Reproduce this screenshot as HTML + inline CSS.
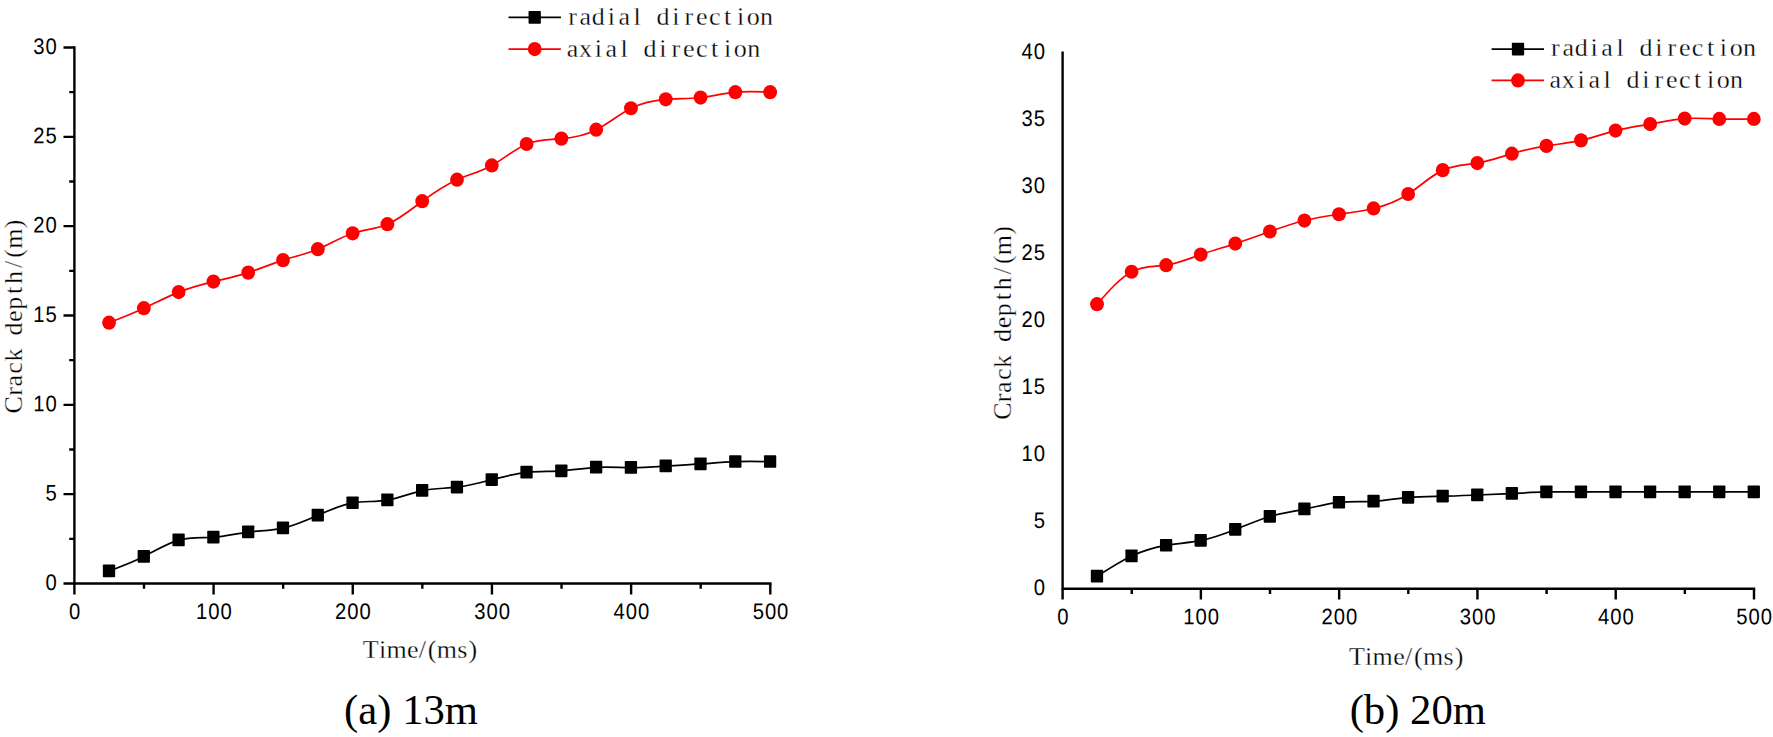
<!DOCTYPE html>
<html lang="en"><head><meta charset="utf-8"><title>Crack depth vs time</title>
<style>html,body{margin:0;padding:0;background:#fff}body{width:1773px;height:737px;overflow:hidden}svg{display:block}</style>
</head><body>
<svg width="1773" height="737" viewBox="0 0 1773 737">
<rect width="1773" height="737" fill="#fff"/>
<g>
<g stroke="#000" stroke-width="2.4" fill="none">
<path d="M74.4 46.3V584.7M73.2 583.5H771.5"/>
<path d="M74.4 583.5v10.9M143.99 583.5v5.2M213.58 583.5v10.9M283.17 583.5v5.2M352.76 583.5v10.9M422.35 583.5v5.2M491.94 583.5v10.9M561.53 583.5v5.2M631.12 583.5v10.9M700.71 583.5v5.2M770.3 583.5v10.9M74.4 583.5h-10.9M74.4 538.83h-5.2M74.4 494.17h-10.9M74.4 449.5h-5.2M74.4 404.83h-10.9M74.4 360.17h-5.2M74.4 315.5h-10.9M74.4 270.83h-5.2M74.4 226.17h-10.9M74.4 181.5h-5.2M74.4 136.83h-10.9M74.4 92.17h-5.2M74.4 47.5h-10.9"/>
</g>
<g font-family="Liberation Sans, sans-serif" font-size="22" letter-spacing="1.06" fill="#000">
<text transform="translate(75.1 619) rotate(0.05) scale(0.92 1.02)" text-anchor="middle">0</text>
<text transform="translate(214.28 619) rotate(0.05) scale(0.92 1.02)" text-anchor="middle">100</text>
<text transform="translate(353.46 619) rotate(0.05) scale(0.92 1.02)" text-anchor="middle">200</text>
<text transform="translate(492.64 619) rotate(0.05) scale(0.92 1.02)" text-anchor="middle">300</text>
<text transform="translate(631.82 619) rotate(0.05) scale(0.92 1.02)" text-anchor="middle">400</text>
<text transform="translate(771 619) rotate(0.05) scale(0.92 1.02)" text-anchor="middle">500</text>
<text transform="translate(57.8 589.9) rotate(0.05) scale(0.92 1.02)" text-anchor="end">0</text>
<text transform="translate(57.8 500.57) rotate(0.05) scale(0.92 1.02)" text-anchor="end">5</text>
<text transform="translate(57.8 411.23) rotate(0.05) scale(0.92 1.02)" text-anchor="end">10</text>
<text transform="translate(57.8 321.9) rotate(0.05) scale(0.92 1.02)" text-anchor="end">15</text>
<text transform="translate(57.8 232.57) rotate(0.05) scale(0.92 1.02)" text-anchor="end">20</text>
<text transform="translate(57.8 143.23) rotate(0.05) scale(0.92 1.02)" text-anchor="end">25</text>
<text transform="translate(57.8 53.9) rotate(0.05) scale(0.92 1.02)" text-anchor="end">30</text>
</g>
<path d="M109.2 570.99C120.79 566.69 132.39 562.39 143.99 556.52C155.59 550.65 167.19 543.22 178.78 540.08C190.38 536.94 201.98 538.09 213.58 537.23C225.18 536.36 236.78 533.47 248.38 532.04C259.97 530.62 271.57 530.67 283.17 528.11C294.77 525.56 306.37 520.41 317.97 515.25C329.56 510.09 341.16 504.93 352.76 502.92C364.36 500.91 375.96 502.05 387.55 500.06C399.15 498.08 410.75 492.97 422.35 490.59C433.95 488.21 445.55 488.56 457.14 487.2C468.74 485.83 480.34 482.75 491.94 479.69C503.54 476.64 515.14 473.6 526.74 472.37C538.33 471.14 549.93 471.72 561.53 470.94C573.13 470.16 584.73 468.03 596.32 467.37C607.92 466.71 619.52 467.52 631.12 467.55C642.72 467.57 654.32 466.81 665.91 466.12C677.51 465.43 689.11 464.81 700.71 463.97C712.31 463.13 723.91 462.07 735.5 461.65C747.1 461.23 758.7 461.44 770.3 461.65" fill="none" stroke="#000" stroke-width="1.7"/>
<g fill="#000">
<rect x="102.85" y="564.49" width="12.3" height="12.7" rx="0.8"/>
<rect x="137.64" y="550.02" width="12.3" height="12.7" rx="0.8"/>
<rect x="172.44" y="533.58" width="12.3" height="12.7" rx="0.8"/>
<rect x="207.23" y="530.73" width="12.3" height="12.7" rx="0.8"/>
<rect x="242.03" y="525.54" width="12.3" height="12.7" rx="0.8"/>
<rect x="276.82" y="521.61" width="12.3" height="12.7" rx="0.8"/>
<rect x="311.62" y="508.75" width="12.3" height="12.7" rx="0.8"/>
<rect x="346.41" y="496.42" width="12.3" height="12.7" rx="0.8"/>
<rect x="381.2" y="493.56" width="12.3" height="12.7" rx="0.8"/>
<rect x="416" y="484.09" width="12.3" height="12.7" rx="0.8"/>
<rect x="450.79" y="480.7" width="12.3" height="12.7" rx="0.8"/>
<rect x="485.59" y="473.19" width="12.3" height="12.7" rx="0.8"/>
<rect x="520.38" y="465.87" width="12.3" height="12.7" rx="0.8"/>
<rect x="555.18" y="464.44" width="12.3" height="12.7" rx="0.8"/>
<rect x="589.97" y="460.87" width="12.3" height="12.7" rx="0.8"/>
<rect x="624.77" y="461.05" width="12.3" height="12.7" rx="0.8"/>
<rect x="659.56" y="459.62" width="12.3" height="12.7" rx="0.8"/>
<rect x="694.36" y="457.47" width="12.3" height="12.7" rx="0.8"/>
<rect x="729.15" y="455.15" width="12.3" height="12.7" rx="0.8"/>
<rect x="763.95" y="455.15" width="12.3" height="12.7" rx="0.8"/>
</g>
<path d="M109.2 322.65C120.79 318.08 132.39 313.51 143.99 308.17C155.59 302.83 167.19 296.72 178.78 292.09C190.38 287.47 201.98 284.33 213.58 281.55C225.18 278.78 236.78 276.36 248.38 272.62C259.97 268.88 271.57 263.83 283.17 260.11C294.77 256.4 306.37 254.03 317.97 249.21C329.56 244.4 341.16 237.13 352.76 233.31C364.36 229.5 375.96 229.14 387.55 224.2C399.15 219.26 410.75 209.75 422.35 201.15C433.95 192.56 445.55 184.89 457.14 179.71C468.74 174.53 480.34 171.84 491.94 165.42C503.54 159 515.14 148.86 526.74 143.98C538.33 139.1 549.93 139.5 561.53 138.62C573.13 137.74 584.73 135.59 596.32 129.69C607.92 123.79 619.52 114.14 631.12 108.25C642.72 102.35 654.32 100.2 665.91 99.31C677.51 98.43 689.11 98.8 700.71 97.53C712.31 96.25 723.91 93.33 735.5 92.17C747.1 91 758.7 91.58 770.3 92.17" fill="none" stroke="#f00" stroke-width="1.7"/>
<g fill="#f00">
<ellipse cx="109.05" cy="322.65" rx="6.9" ry="7.1"/>
<ellipse cx="143.84" cy="308.17" rx="6.9" ry="7.1"/>
<ellipse cx="178.63" cy="292.09" rx="6.9" ry="7.1"/>
<ellipse cx="213.43" cy="281.55" rx="6.9" ry="7.1"/>
<ellipse cx="248.22" cy="272.62" rx="6.9" ry="7.1"/>
<ellipse cx="283.02" cy="260.11" rx="6.9" ry="7.1"/>
<ellipse cx="317.82" cy="249.21" rx="6.9" ry="7.1"/>
<ellipse cx="352.61" cy="233.31" rx="6.9" ry="7.1"/>
<ellipse cx="387.4" cy="224.2" rx="6.9" ry="7.1"/>
<ellipse cx="422.2" cy="201.15" rx="6.9" ry="7.1"/>
<ellipse cx="457" cy="179.71" rx="6.9" ry="7.1"/>
<ellipse cx="491.79" cy="165.42" rx="6.9" ry="7.1"/>
<ellipse cx="526.59" cy="143.98" rx="6.9" ry="7.1"/>
<ellipse cx="561.38" cy="138.62" rx="6.9" ry="7.1"/>
<ellipse cx="596.17" cy="129.69" rx="6.9" ry="7.1"/>
<ellipse cx="630.97" cy="108.25" rx="6.9" ry="7.1"/>
<ellipse cx="665.76" cy="99.31" rx="6.9" ry="7.1"/>
<ellipse cx="700.56" cy="97.53" rx="6.9" ry="7.1"/>
<ellipse cx="735.36" cy="92.17" rx="6.9" ry="7.1"/>
<ellipse cx="770.15" cy="92.17" rx="6.9" ry="7.1"/>
</g>
<path d="M508.5 17.4H560.9" stroke="#000" stroke-width="1.7"/>
<rect x="528.55" y="11" width="12.3" height="12.7" rx="0.8" fill="#000"/>
<path d="M508.5 49.1H560.9" stroke="#f00" stroke-width="1.7"/>
<ellipse cx="534.7" cy="49.1" rx="6.9" ry="7.1" fill="#f00"/>
<g font-family="Liberation Serif, serif" font-size="26" text-anchor="middle" stroke="#fff" stroke-width="0.3" fill="#000">
<text x="572.47 585.39 598.33 611.25 624.18 637.12 650.04 662.98 675.9 688.84 701.76 714.69 727.62 740.56 753.3 766.6" y="25.3">radial direction</text>
<text x="572.47 585.39 598.33 611.25 624.18 637.12 650.04 662.98 675.9 688.84 701.76 714.69 727.62 740.37 753.67" y="56.5">axial direction</text>
<text x="-88.6 -75.3 -64.65 -51.72 -38.79 -25.86 -12.93 0 12.93 25.86 38.79 51.72 62.84 77.58 92.32" y="0" transform="translate(22.4 316.2) rotate(-90)">Crack depth/(m)</text>
<text x="370.66 382.51 396.53 412.71 422.4 432.08 446.82 462.29 472.92" y="658.4">Time/(ms)</text>
</g>
<text font-family="Liberation Serif, serif" font-size="42.7" x="411.1" y="723.8" text-anchor="middle" fill="#000">(a) 13m</text>
</g>
<g>
<g stroke="#000" stroke-width="2.4" fill="none">
<path d="M1062.6 51.4V589.9M1061.4 588.7H1755.2"/>
<path d="M1062.6 588.7v10.9M1131.74 588.7v5.2M1200.88 588.7v10.9M1270.02 588.7v5.2M1339.16 588.7v10.9M1408.3 588.7v5.2M1477.44 588.7v10.9M1546.58 588.7v5.2M1615.72 588.7v10.9M1684.86 588.7v5.2M1754 588.7v10.9"/>
</g>
<g font-family="Liberation Sans, sans-serif" font-size="22" letter-spacing="1.06" fill="#000">
<text transform="translate(1063.3 624.2) rotate(0.05) scale(0.92 1.02)" text-anchor="middle">0</text>
<text transform="translate(1201.58 624.2) rotate(0.05) scale(0.92 1.02)" text-anchor="middle">100</text>
<text transform="translate(1339.86 624.2) rotate(0.05) scale(0.92 1.02)" text-anchor="middle">200</text>
<text transform="translate(1478.14 624.2) rotate(0.05) scale(0.92 1.02)" text-anchor="middle">300</text>
<text transform="translate(1616.42 624.2) rotate(0.05) scale(0.92 1.02)" text-anchor="middle">400</text>
<text transform="translate(1754.7 624.2) rotate(0.05) scale(0.92 1.02)" text-anchor="middle">500</text>
<text transform="translate(1046 595.1) rotate(0.05) scale(0.92 1.02)" text-anchor="end">0</text>
<text transform="translate(1046 528.09) rotate(0.05) scale(0.92 1.02)" text-anchor="end">5</text>
<text transform="translate(1046 461.08) rotate(0.05) scale(0.92 1.02)" text-anchor="end">10</text>
<text transform="translate(1046 394.06) rotate(0.05) scale(0.92 1.02)" text-anchor="end">15</text>
<text transform="translate(1046 327.05) rotate(0.05) scale(0.92 1.02)" text-anchor="end">20</text>
<text transform="translate(1046 260.04) rotate(0.05) scale(0.92 1.02)" text-anchor="end">25</text>
<text transform="translate(1046 193.03) rotate(0.05) scale(0.92 1.02)" text-anchor="end">30</text>
<text transform="translate(1046 126.01) rotate(0.05) scale(0.92 1.02)" text-anchor="end">35</text>
<text transform="translate(1046 59) rotate(0.05) scale(0.92 1.02)" text-anchor="end">40</text>
</g>
<path d="M1097.17 576.3C1108.69 568.83 1120.22 561.36 1131.74 556C1143.26 550.63 1154.79 547.37 1166.31 545.41C1177.83 543.45 1189.36 542.81 1200.88 540.45C1212.4 538.1 1223.93 534.03 1235.45 529.46C1246.97 524.89 1258.5 519.81 1270.02 516.46C1281.54 513.11 1293.07 511.47 1304.59 509.09C1316.11 506.7 1327.64 503.56 1339.16 502.39C1350.68 501.21 1362.21 502 1373.73 501.32C1385.25 500.63 1396.78 498.47 1408.3 497.43C1419.82 496.38 1431.35 496.45 1442.87 496.22C1454.39 496 1465.92 495.48 1477.44 495.02C1488.96 494.55 1500.49 494.13 1512.01 493.54C1523.53 492.96 1535.06 492.21 1546.58 491.93C1558.1 491.66 1569.63 491.86 1581.15 491.93C1592.67 492.01 1604.2 491.95 1615.72 491.93C1627.24 491.91 1638.77 491.93 1650.29 491.93C1661.81 491.94 1673.34 491.94 1684.86 491.93C1696.38 491.93 1707.91 491.93 1719.43 491.93C1730.95 491.93 1742.48 491.93 1754 491.93" fill="none" stroke="#000" stroke-width="1.7"/>
<g fill="#000">
<rect x="1090.82" y="569.8" width="12.3" height="12.7" rx="0.8"/>
<rect x="1125.39" y="549.5" width="12.3" height="12.7" rx="0.8"/>
<rect x="1159.96" y="538.91" width="12.3" height="12.7" rx="0.8"/>
<rect x="1194.53" y="533.95" width="12.3" height="12.7" rx="0.8"/>
<rect x="1229.1" y="522.96" width="12.3" height="12.7" rx="0.8"/>
<rect x="1263.67" y="509.96" width="12.3" height="12.7" rx="0.8"/>
<rect x="1298.24" y="502.59" width="12.3" height="12.7" rx="0.8"/>
<rect x="1332.81" y="495.89" width="12.3" height="12.7" rx="0.8"/>
<rect x="1367.38" y="494.82" width="12.3" height="12.7" rx="0.8"/>
<rect x="1401.95" y="490.93" width="12.3" height="12.7" rx="0.8"/>
<rect x="1436.52" y="489.72" width="12.3" height="12.7" rx="0.8"/>
<rect x="1471.09" y="488.52" width="12.3" height="12.7" rx="0.8"/>
<rect x="1505.66" y="487.04" width="12.3" height="12.7" rx="0.8"/>
<rect x="1540.23" y="485.43" width="12.3" height="12.7" rx="0.8"/>
<rect x="1574.8" y="485.43" width="12.3" height="12.7" rx="0.8"/>
<rect x="1609.37" y="485.43" width="12.3" height="12.7" rx="0.8"/>
<rect x="1643.94" y="485.43" width="12.3" height="12.7" rx="0.8"/>
<rect x="1678.51" y="485.43" width="12.3" height="12.7" rx="0.8"/>
<rect x="1713.08" y="485.43" width="12.3" height="12.7" rx="0.8"/>
<rect x="1747.65" y="485.43" width="12.3" height="12.7" rx="0.8"/>
</g>
<path d="M1097.17 304.16C1108.69 290.95 1120.22 277.73 1131.74 271.73C1143.26 265.73 1154.79 266.95 1166.31 265.16C1177.83 263.38 1189.36 258.59 1200.88 254.58C1212.4 250.56 1223.93 247.32 1235.45 243.59C1246.97 239.85 1258.5 235.63 1270.02 231.52C1281.54 227.42 1293.07 223.43 1304.59 220.53C1316.11 217.64 1327.64 215.83 1339.16 214.23C1350.68 212.64 1362.21 211.24 1373.73 208.47C1385.25 205.7 1396.78 201.54 1408.3 194C1419.82 186.45 1431.35 175.51 1442.87 170.14C1454.39 164.77 1465.92 164.98 1477.44 163.04C1488.96 161.09 1500.49 157 1512.01 153.65C1523.53 150.31 1535.06 147.7 1546.58 145.88C1558.1 144.06 1569.63 143.02 1581.15 140.39C1592.67 137.75 1604.2 133.51 1615.72 130.6C1627.24 127.69 1638.77 126.11 1650.29 124.04C1661.81 121.96 1673.34 119.38 1684.86 118.54C1696.38 117.7 1707.91 118.59 1719.43 118.94C1730.95 119.3 1742.48 119.12 1754 118.94" fill="none" stroke="#f00" stroke-width="1.7"/>
<g fill="#f00">
<ellipse cx="1097.02" cy="304.16" rx="6.9" ry="7.1"/>
<ellipse cx="1131.59" cy="271.73" rx="6.9" ry="7.1"/>
<ellipse cx="1166.16" cy="265.16" rx="6.9" ry="7.1"/>
<ellipse cx="1200.73" cy="254.58" rx="6.9" ry="7.1"/>
<ellipse cx="1235.3" cy="243.59" rx="6.9" ry="7.1"/>
<ellipse cx="1269.87" cy="231.52" rx="6.9" ry="7.1"/>
<ellipse cx="1304.44" cy="220.53" rx="6.9" ry="7.1"/>
<ellipse cx="1339.01" cy="214.23" rx="6.9" ry="7.1"/>
<ellipse cx="1373.58" cy="208.47" rx="6.9" ry="7.1"/>
<ellipse cx="1408.15" cy="194" rx="6.9" ry="7.1"/>
<ellipse cx="1442.72" cy="170.14" rx="6.9" ry="7.1"/>
<ellipse cx="1477.29" cy="163.04" rx="6.9" ry="7.1"/>
<ellipse cx="1511.86" cy="153.65" rx="6.9" ry="7.1"/>
<ellipse cx="1546.43" cy="145.88" rx="6.9" ry="7.1"/>
<ellipse cx="1581" cy="140.39" rx="6.9" ry="7.1"/>
<ellipse cx="1615.57" cy="130.6" rx="6.9" ry="7.1"/>
<ellipse cx="1650.14" cy="124.04" rx="6.9" ry="7.1"/>
<ellipse cx="1684.71" cy="118.54" rx="6.9" ry="7.1"/>
<ellipse cx="1719.28" cy="118.94" rx="6.9" ry="7.1"/>
<ellipse cx="1753.85" cy="118.94" rx="6.9" ry="7.1"/>
</g>
<path d="M1491.6 49.1H1544.0" stroke="#000" stroke-width="1.7"/>
<rect x="1511.85" y="42.7" width="12.3" height="12.7" rx="0.8" fill="#000"/>
<path d="M1491.6 80.4H1544.0" stroke="#f00" stroke-width="1.7"/>
<ellipse cx="1518.0" cy="80.4" rx="6.9" ry="7.1" fill="#f00"/>
<g font-family="Liberation Serif, serif" font-size="26" text-anchor="middle" stroke="#fff" stroke-width="0.3" fill="#000">
<text x="1555.37 1568.3 1581.23 1594.16 1607.09 1620.02 1632.95 1645.88 1658.81 1671.74 1684.66 1697.6 1710.53 1723.46 1736.2 1749.5" y="56.4">radial direction</text>
<text x="1555.37 1568.3 1581.23 1594.16 1607.09 1620.02 1632.95 1645.88 1658.81 1671.74 1684.66 1697.6 1710.53 1723.27 1736.57" y="88.4">axial direction</text>
<text x="-88.6 -75.3 -64.65 -51.72 -38.79 -25.86 -12.93 0 12.93 25.86 38.79 51.72 62.84 77.58 92.32" y="0" transform="translate(1010.5 322.6) rotate(-90)">Crack depth/(m)</text>
<text x="1356.86 1368.71 1382.73 1398.91 1408.6 1418.28 1433.02 1448.49 1459.12" y="664.8">Time/(ms)</text>
</g>
<text font-family="Liberation Serif, serif" font-size="42.7" x="1417.8" y="723.8" text-anchor="middle" fill="#000">(b) 20m</text>
</g>
</svg>
</body></html>
